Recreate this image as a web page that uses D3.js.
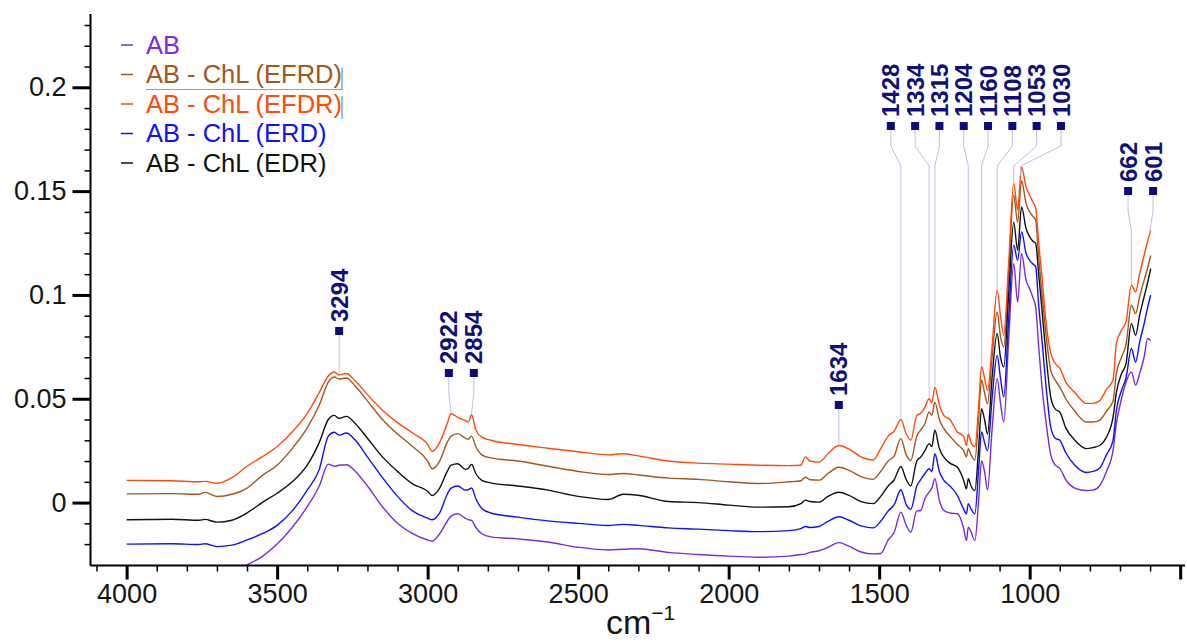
<!DOCTYPE html>
<html>
<head>
<meta charset="utf-8">
<script src="https://cdn.jsdelivr.net/npm/d3@7"></script>
<style>
  body { margin: 0; background: #ffffff; }
  svg { display: block; font-family: "Liberation Sans", Arial, sans-serif; }
</style>
</head>
<body>
<div class="chart"></div>
<script>
//wavenumbers shared by every spectrum (cm-1, high to low)
var wavenumbers = [
  4000, 3850, 3760, 3740, 3700, 3650, 3600, 3550, 3500, 3450,
  3400, 3360, 3330, 3310, 3294, 3270, 3240, 3200, 3150, 3100,
  3050, 3000, 2985, 2960, 2935, 2922, 2900, 2875, 2865, 2854,
  2840, 2820, 2790, 2700, 2600, 2500, 2400, 2350, 2300, 2200,
  2100, 2000, 1900, 1800, 1760, 1745, 1730, 1700, 1670, 1634,
  1600, 1560, 1520, 1495, 1470, 1450, 1428, 1410, 1395, 1375,
  1362, 1348, 1334, 1325, 1315, 1300, 1285, 1265, 1240, 1220,
  1210, 1204, 1195, 1182, 1170, 1160, 1150, 1140, 1125, 1108,
  1097, 1086, 1070, 1053, 1040, 1027, 1012, 1000, 990, 980,
  970, 960, 945, 930, 915, 900, 880, 850, 812, 790,
  768, 745, 723, 712, 695, 680, 662, 648, 635, 620, 608, 598
];

//absorbance of each sample
var abValues = [
  -.0340, -.0340, -.0345, -.0340, -.0350, -.0335, -.0300, -.0260, -.0200, -.0120,
  -.0020, .0080, .0185, .0175, .0180, .0182, .0150, .0080, -.0020, -.0100,
  -.0150, -.0180, -.0186, -.0150, -.0090, -.0065, -.0054, -.0075, -.0082, -.0086,
  -.0120, -.0150, -.0165, -.0175, -.0190, -.0215, -.0228, -.0225, -.0222, -.0240,
  -.0250, -.0258, -.0263, -.0258, -.0250, -.0248, -.0240, -.0232, -.0215, -.0193,
  -.0210, -.0238, -.0247, -.0245, -.0180, -.0143, -.0046, -.0110, -.0143, -.0040,
  -.0038, .0020, .0050, .0070, .0115, .0010, -.0038, -.0050, -.0054, -.0120,
  -.0183, -.0118, -.0140, -.0183, .0000, .0200, .0150, .0060, .0350, .0597,
  .0480, .0388, .0780, .1151, .0966, .1200, .1070, .1030, .0990, .0942,
  .0750, .0573, .0380, .0230, .0180, .0165, .0110, .0070, .0058, .0060,
  .0080, .0150, .0251, .0380, .0500, .0580, .0629, .0565, .0620, .0700, .0790, .0780
];

var efrdValues = [
  .0042, .0043, .0040, .0049, .0029, .0040, .0070, .0130, .0180, .0260,
  .0360, .0470, .0580, .0605, .0595, .0600, .0560, .0490, .0400, .0330,
  .0270, .0200, .0163, .0200, .0290, .0320, .0332, .0310, .0305, .0320,
  .0270, .0230, .0215, .0200, .0175, .0150, .0135, .0140, .0133, .0118,
  .0112, .0100, .0092, .0100, .0105, .0122, .0110, .0108, .0140, .0170,
  .0155, .0125, .0112, .0150, .0200, .0225, .0308, .0230, .0203, .0320,
  .0350, .0380, .0436, .0420, .0484, .0400, .0356, .0320, .0280, .0251,
  .0220, .0260, .0230, .0205, .0400, .0589, .0530, .0476, .0700, .0918,
  .0800, .0750, .1100, .1480, .1350, .1550, .1440, .1400, .1380, .1360,
  .1180, .1020, .0800, .0637, .0590, .0556, .0500, .0440, .0388, .0388,
  .0396, .0440, .0490, .0620, .0700, .0760, .0950, .0910, .0990, .1070, .1130, .1190
];

var efdrValues = [
  .0107, .0105, .0100, .0102, .0093, .0120, .0175, .0220, .0270, .0340,
  .0430, .0530, .0610, .0629, .0615, .0622, .0585, .0520, .0445, .0385,
  .0335, .0280, .0246, .0290, .0380, .0428, .0410, .0395, .0388, .0423,
  .0350, .0315, .0300, .0280, .0262, .0245, .0230, .0235, .0225, .0200,
  .0190, .0185, .0180, .0178, .0180, .0220, .0200, .0195, .0235, .0275,
  .0258, .0220, .0205, .0260, .0320, .0345, .0400, .0330, .0300, .0420,
  .0430, .0460, .0500, .0480, .0556, .0470, .0420, .0400, .0340, .0320,
  .0275, .0330, .0290, .0270, .0450, .0656, .0600, .0540, .0750, .1023,
  .0900, .0806, .1150, .1537, .1410, .1617, .1520, .1480, .1450, .1418,
  .1250, .1100, .0860, .0720, .0670, .0647, .0580, .0530, .0478, .0478,
  .0490, .0545, .0590, .0766, .0830, .0870, .1047, .1014, .1100, .1190, .1260, .1310
];

var erdValues = [
  -.0200, -.0198, -.0202, -.0198, -.0212, -.0205, -.0180, -.0150, -.0110, -.0040,
  .0060, .0160, .0320, .0339, .0325, .0335, .0300, .0220, .0120, .0030,
  -.0040, -.0075, -.0083, -.0050, .0040, .0070, .0080, .0060, .0062, .0070,
  .0020, -.0028, -.0050, -.0070, -.0088, -.0100, -.0110, -.0105, -.0110, -.0122,
  -.0128, -.0135, -.0140, -.0135, -.0125, -.0115, -.0120, -.0115, -.0090, -.0068,
  -.0085, -.0112, -.0122, -.0090, -.0040, -.0010, .0062, -.0010, -.0033, .0080,
  .0110, .0140, .0163, .0150, .0235, .0150, .0107, .0080, .0034, -.0030,
  -.0054, -.0005, -.0030, -.0054, .0150, .0340, .0290, .0250, .0500, .0709,
  .0600, .0508, .0880, .1240, .1167, .1304, .1200, .1167, .1150, .1135,
  .0950, .0797, .0550, .0363, .0310, .0300, .0240, .0180, .0145, .0150,
  .0165, .0230, .0300, .0444, .0540, .0600, .0742, .0677, .0770, .0860, .0940, .0999
];

var edrValues = [
  -.0083, -.0080, -.0085, -.0081, -.0094, -.0085, -.0050, .0000, .0045, .0100,
  .0180, .0290, .0400, .0420, .0405, .0415, .0380, .0310, .0220, .0150,
  .0090, .0055, .0034, .0070, .0150, .0180, .0187, .0160, .0165, .0184,
  .0140, .0107, .0095, .0080, .0060, .0030, .0015, .0040, .0035, .0005,
  .0000, -.0012, -.0022, -.0020, -.0005, .0012, .0005, .0002, .0030, .0050,
  .0035, .0005, -.0005, .0030, .0080, .0110, .0174, .0110, .0080, .0200,
  .0219, .0250, .0284, .0270, .0348, .0260, .0219, .0190, .0170, .0110,
  .0066, .0115, .0080, .0058, .0250, .0452, .0400, .0330, .0600, .0814,
  .0700, .0653, .1000, .1350, .1216, .1424, .1320, .1280, .1260, .1248,
  .1100, .0942, .0700, .0508, .0450, .0436, .0360, .0300, .0260, .0265,
  .0275, .0315, .0412, .0530, .0620, .0669, .0862, .0806, .0900, .0990, .1060, .1127
];

//legend names and colours, in legend order
var seriesNames = ["AB", "AB - ChL (EFRD)", "AB - ChL (EFDR)", "AB - ChL (ERD)", "AB - ChL (EDR)"];
var seriesColors = ["#7a2cd8", "#a4561c", "#ff4a0c", "#1010ff", "#111111"];
var seriesValues = [abValues, efrdValues, efdrValues, erdValues, edrValues];

//axis ticks
var xTicks = [4000, 3500, 3000, 2500, 2000, 1500, 1000, 500];
var xTickLabels = ["4000", "3500", "3000", "2500", "2000", "1500", "1000", ""];
var yTicks = [0, 0.05, 0.1, 0.15, 0.2];
var yTickLabels = ["0", "0.05", "0.1", "0.15", "0.2"];

//peak labels, grouped the way they are stacked on the chart
var peakGroups = [[3294], [2922, 2854], [1634], [1428, 1334, 1315, 1204, 1160, 1108, 1053, 1030], [662, 601]];
var peakLevels = [331, 373, 405, 126, 191];

var width = 1187, height = 643;
//plot box edges (named so they do not clash with window.top)
var plotLeft = 90.5, plotRight = 1185, plotTop = 14, plotBottom = 565.5;

var svg = d3.select(".chart").append("svg")
  .attr("width", width)
  .attr("height", height);

svg.append("rect").attr("width", width).attr("height", height).attr("fill", "#ffffff");

//scales, wavenumber runs from high to low
var x = d3.scaleLinear().domain([4120, 484]).range([plotLeft, plotRight]);
var y = d3.scaleLinear().domain([-0.0303, 0.2353]).range([plotBottom, plotTop]);

//clip the spectra to the plot box
svg.append("clipPath").attr("id", "plotclip")
  .append("rect")
  .attr("x", plotLeft).attr("y", plotTop)
  .attr("width", plotRight - plotLeft).attr("height", plotBottom - plotTop);

var line = d3.line()
  .x(function(d, i) { return x(wavenumbers[i]); })
  .y(function(d) { return y(d); })
  .curve(d3.curveMonotoneX);

svg.append("g").attr("clip-path", "url(#plotclip)")
  .selectAll("path")
  .data(seriesValues)
  .enter()
  .append("path")
  .attr("d", line)
  .attr("fill", "none")
  .attr("stroke", function(d, i) { return seriesColors[i]; })
  .attr("stroke-width", 1.4)
  .attr("stroke-linejoin", "round");

//minor ticks first so the major ones draw on top
var xMinor = d3.range(4100, 499, -100);
var yMinor = d3.range(-0.02, 0.235, 0.01);

svg.append("g")
  .attr("transform", "translate(0," + plotBottom + ")")
  .call(d3.axisBottom(x).tickValues(xMinor).tickSize(6).tickFormat(""))
  .call(function(g) { g.select(".domain").remove(); g.selectAll("line").attr("stroke-width", 1.5); });

svg.append("g")
  .attr("transform", "translate(" + plotLeft + ",0)")
  .call(d3.axisLeft(y).tickValues(yMinor).tickSize(6).tickFormat(""))
  .call(function(g) { g.select(".domain").remove(); g.selectAll("line").attr("stroke-width", 1.5); });

//major axes with labels
var xAxis = svg.append("g")
  .attr("transform", "translate(0," + plotBottom + ")")
  .call(d3.axisBottom(x).tickValues(xTicks).tickSize(14).tickSizeOuter(0).tickPadding(4)
    .tickFormat(function(d, i) { return xTickLabels[i]; }));

var yAxis = svg.append("g")
  .attr("transform", "translate(" + plotLeft + ",0)")
  .call(d3.axisLeft(y).tickValues(yTicks).tickSize(18).tickSizeOuter(0).tickPadding(6)
    .tickFormat(function(d, i) { return yTickLabels[i]; }));

[xAxis, yAxis].forEach(function(g) {
  g.select(".domain").attr("stroke-width", 2);
  g.selectAll(".tick line").attr("stroke-width", 3);
  g.selectAll(".tick text")
    .attr("fill", "#151515")
    .style("font-size", "27px")
    .style("font-family", "'Liberation Sans', Arial, sans-serif");
});
xAxis.select(".domain").attr("d", "M" + plotLeft + ",0H" + plotRight);
yAxis.select(".domain").attr("d", "M0," + plotTop + "V" + plotBottom);

//x axis title with superscript
var xTitle = svg.append("text")
  .attr("x", 606)
  .attr("y", 634)
  .attr("fill", "#151515")
  .style("font-size", "34px")
  .text("cm");
xTitle.append("tspan")
  .attr("dy", -14)
  .style("font-size", "21px")
  .text("\u22121");

//legend
var legend = svg.append("g");
seriesNames.forEach(function(name, i) {
  var rowY = 45 + i * 29.5;
  legend.append("line")
    .attr("x1", 121).attr("x2", 133)
    .attr("y1", rowY).attr("y2", rowY)
    .attr("stroke", seriesColors[i])
    .attr("stroke-width", 1.5);
  legend.append("text")
    .attr("x", 146)
    .attr("y", rowY)
    .attr("dy", "0.35em")
    .attr("fill", seriesColors[i])
    .style("font-size", "25.5px")
    .text(name);
});
//the selection marks that sit on the legend
legend.append("line").attr("x1", 146).attr("x2", 342).attr("y1", 89.5).attr("y2", 89.5)
  .attr("stroke", "#55b4f0").attr("stroke-width", 1.2);
legend.append("line").attr("x1", 342).attr("x2", 342).attr("y1", 68).attr("y2", 90)
  .attr("stroke", "#2aa0e8").attr("stroke-width", 1.2);
legend.append("line").attr("x1", 342).attr("x2", 342).attr("y1", 96).attr("y2", 119)
  .attr("stroke", "#2aa0e8").attr("stroke-width", 1.2);

//value of the top (EFDR) spectrum at any wavenumber, for the leader ends
var topCurve = d3.scaleLinear().domain(wavenumbers).range(efdrValues);

var labels = svg.append("g");
peakGroups.forEach(function(group, g) {
  var level = peakLevels[g];
  var spread = group.length > 2 ? 24.3 : 25;
  var start;
  if (group.length > 2) {
    start = x(group[0]) - 10;
  } else {
    start = d3.mean(group, function(p) { return x(p); }) - spread * (group.length - 1) / 2;
  }
  group.forEach(function(peak, i) {
    var mx = start + i * spread;
    var px = x(peak);
    var py = y(topCurve(peak)) - 1;

    //leader from marker to the peak
    var path = "M" + mx + "," + (level + 4) +
      " L" + mx + "," + (level + 20) +
      " L" + px + "," + (level + 40) +
      " L" + px + "," + py;
    if (group.length == 1) {
      path = "M" + mx + "," + (level + 4) + " L" + px + "," + py;
    }
    labels.append("path")
      .attr("d", path)
      .attr("fill", "none")
      .attr("stroke", "#b9b9e2")
      .attr("stroke-width", 0.9);

    //little square marker
    labels.append("rect")
      .attr("x", mx - 4).attr("y", level - 4)
      .attr("width", 8).attr("height", 8)
      .attr("fill", "#0c0c7e");

    //rotated peak number
    labels.append("text")
      .attr("transform", "translate(" + mx + "," + (level - 9) + ") rotate(-90)")
      .attr("dy", "0.36em")
      .attr("text-anchor", "start")
      .attr("fill", "#10107a")
      .style("font-size", "24px")
      .style("font-weight", "bold")
      .text(peak);
  });
});
</script>
</body>
</html>
